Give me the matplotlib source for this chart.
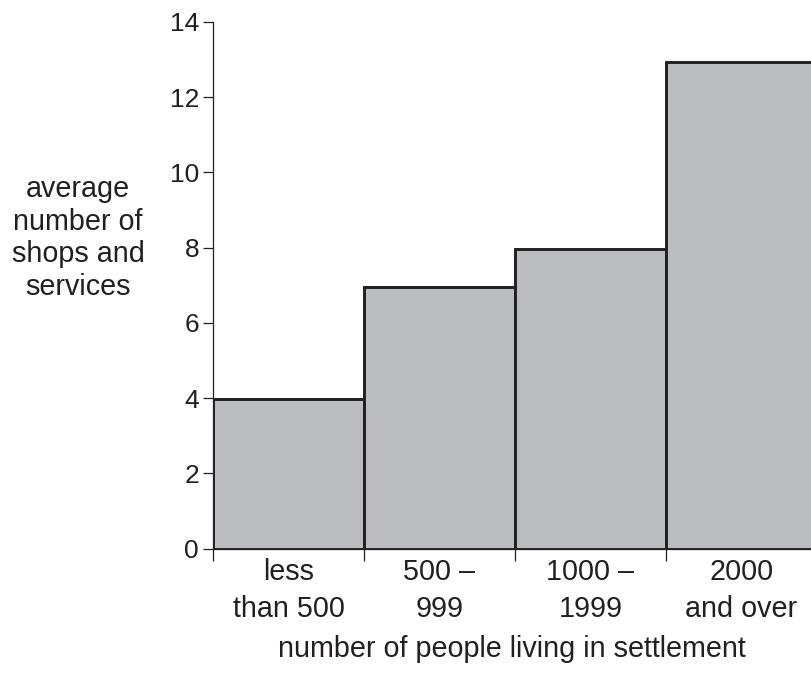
import numpy as np
import matplotlib
matplotlib.use('Agg')
from matplotlib import pyplot as plt

plt.rcParams['font.family'] = ['Liberation Sans', 'DejaVu Sans']

# data
categories = ['less\nthan 500', '500 –\n999', '1000 –\n1999', '2000\nand over']
values = [3.98, 6.95, 7.97, 12.94]
yticks = [0, 2, 4, 6, 8, 10, 12, 14]

ink = '#231f20'
fill = '#bcbdc1'

fig = plt.figure(figsize=(8.12, 6.73), dpi=100)
# axes from the y axis line to the right edge of the picture
ax = fig.add_axes([213/812, 124.3/673, 1 - 213/812, (548.7 - 22)/673])

edges = np.arange(len(values))
ax.bar(edges, values, width=1.0, align='edge', color=fill,
       edgecolor=ink, linewidth=2.1)

ax.spines['top'].set_visible(False)
ax.spines['right'].set_visible(False)
for s in ('left', 'bottom'):
    ax.spines[s].set_color(ink)
    ax.spines[s].set_linewidth(0.9)

ax.set_yticks(yticks)
ax.tick_params(axis='y', direction='out', length=7, width=0.9, color=ink,
               labelsize=19, labelcolor=ink, pad=3)

# bin edges as major ticks, category names on minor ticks at the centres
ax.set_xticks(np.arange(len(values) + 1))
ax.set_xticklabels([])
ax.set_xticks(edges + 0.5, minor=True)
ax.set_xticklabels(categories, minor=True, linespacing=1.4)
ax.tick_params(axis='x', which='major', direction='out', length=8.5,
               width=0.9, color=ink)
ax.tick_params(axis='x', which='minor', length=0, labelsize=20.7,
               labelcolor=ink, pad=7)

# last bin runs off the right edge of the picture
ax.set_xlim(0, 599/151)
ax.set_ylim(0, 14)

fig.text(512/812, 1 - 649/673, 'number of people living in settlement',
         ha='center', va='center', fontsize=20.7, color=ink)
fig.text(78/812, 1 - 238/673, 'average\nnumber of\nshops and\nservices',
         ha='center', va='center', multialignment='center',
         fontsize=20.7, color=ink, linespacing=1.22)

fig.savefig('out.png', dpi=100)
